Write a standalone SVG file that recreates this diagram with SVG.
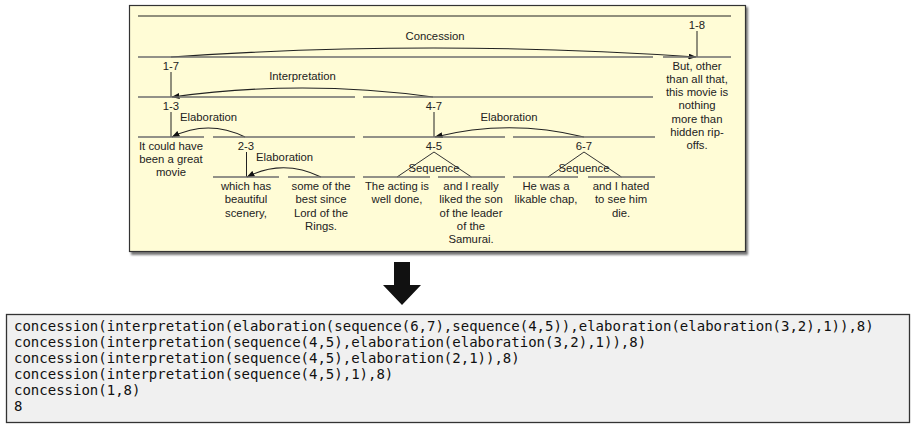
<svg xmlns="http://www.w3.org/2000/svg" width="913" height="427" viewBox="0 0 913 427">
<defs>
<marker id="ah" markerWidth="8" markerHeight="6" refX="7.5" refY="3" orient="auto" markerUnits="userSpaceOnUse">
<path d="M0,0 L8,3 L0,6 Z" fill="#111"/>
</marker>
<filter id="sh" x="-5%" y="-5%" width="110%" height="110%">
<feGaussianBlur stdDeviation="1.2"/>
</filter>
<style>
.t{font-family:"Liberation Sans",Arial,sans-serif;font-size:11.3px;fill:#222;text-anchor:middle}
.tl{font-family:"Liberation Sans",Arial,sans-serif;font-size:11.3px;fill:#222}
.span{stroke:#6e6e6e;stroke-width:1.7;fill:none}
.v{stroke:#222;stroke-width:1;fill:none}
.arc{stroke:#222;stroke-width:1.1;fill:none;marker-end:url(#ah)}
.seq{stroke:#333;stroke-width:1;fill:none}
.mono{font-family:"DejaVu Sans Mono",monospace;font-size:14px;fill:#111}
</style>
</defs>
<rect width="913" height="427" fill="#ffffff"/>
<g id="panel">
<rect x="131" y="7" width="617" height="248" fill="#777" filter="url(#sh)"/>
<rect x="129.5" y="5.5" width="616" height="246" fill="#fffcd6" stroke="#333" stroke-width="1.2"/>
<line x1="138" y1="16" x2="731" y2="16" stroke="#222" stroke-width="1"/>
</g>
<g id="connectors">
<path class="arc" d="M171,57 Q434,39 696,57"/>
<path class="arc" d="M433,97 Q302,79 172,97"/>
<path class="arc" d="M245,137 Q208,119 172,137"/>
<path class="arc" d="M584,137 Q509,118.5 435,137"/>
<path class="arc" d="M321,177 Q283,158.5 247,177"/>
</g>
<g id="n1-8">
<text class="t" x="697" y="29">1-8</text>
<line class="v" x1="697" y1="31" x2="697" y2="57"/>
</g>
<g id="rel-concession"><text class="t" x="435" y="40">Concession</text></g>
<g id="n1-7">
<line class="span" x1="138" y1="57" x2="653" y2="57"/>
<text class="t" x="171" y="69.5">1-7</text>
<line class="v" x1="171" y1="72" x2="171" y2="97"/>
</g>
<g id="rel-interpretation"><text class="t" x="302.5" y="80">Interpretation</text></g>
<g id="n8">
<line class="span" x1="663" y1="57" x2="731" y2="57"/>
<text class="t" x="697" y="69.5">But, other</text>
<text class="t" x="697" y="82.8">than all that,</text>
<text class="t" x="697" y="96.1">this movie is</text>
<text class="t" x="697" y="109.4">nothing</text>
<text class="t" x="697" y="122.7">more than</text>
<text class="t" x="697" y="136">hidden rip-</text>
<text class="t" x="697" y="149.3">offs.</text>
</g>
<g id="n1-3">
<line class="span" x1="138" y1="97" x2="355" y2="97"/>
<text class="t" x="171" y="110">1-3</text>
<line class="v" x1="171" y1="112" x2="171" y2="137"/>
<text class="tl" x="180" y="120.5">Elaboration</text>
</g>
<g id="n4-7">
<line class="span" x1="363" y1="97" x2="653" y2="97"/>
<text class="t" x="434" y="110">4-7</text>
<line class="v" x1="434" y1="112" x2="434" y2="137"/>
<text class="t" x="509" y="120.5">Elaboration</text>
</g>
<g id="n1">
<line class="span" x1="138" y1="137" x2="204" y2="137"/>
<text class="t" x="171" y="149.5">It could have</text>
<text class="t" x="171" y="162.8">been a great</text>
<text class="t" x="171" y="176.1">movie</text>
</g>
<g id="n2-3">
<line class="span" x1="213" y1="137" x2="355" y2="137"/>
<text class="t" x="246" y="149.5">2-3</text>
<line class="v" x1="246.5" y1="152" x2="246.5" y2="177"/>
<text class="tl" x="256" y="160.5">Elaboration</text>
</g>
<g id="n2">
<line class="span" x1="213" y1="177" x2="279" y2="177"/>
<text class="t" x="246" y="190">which has</text>
<text class="t" x="246" y="203.3">beautiful</text>
<text class="t" x="246" y="216.6">scenery,</text>
</g>
<g id="n3">
<line class="span" x1="288" y1="177" x2="355" y2="177"/>
<text class="t" x="321" y="190">some of the</text>
<text class="t" x="321" y="203.3">best since</text>
<text class="t" x="321" y="216.6">Lord of the</text>
<text class="t" x="321" y="229.9">Rings.</text>
</g>
<g id="n4-5">
<line class="span" x1="363" y1="137" x2="505" y2="137"/>
<text class="t" x="434" y="149.5">4-5</text>
<path class="seq" d="M397,177 L434,152 L471.5,177"/>
<text class="t" x="434" y="172">Sequence</text>
</g>
<g id="n4">
<line class="span" x1="363" y1="177" x2="430" y2="177"/>
<text class="t" x="397" y="190">The acting is</text>
<text class="t" x="397" y="203.3">well done,</text>
</g>
<g id="n5">
<line class="span" x1="438" y1="177" x2="505" y2="177"/>
<text class="t" x="471" y="190">and I really</text>
<text class="t" x="471" y="203.3">liked the son</text>
<text class="t" x="471" y="216.6">of the leader</text>
<text class="t" x="471" y="229.9">of the</text>
<text class="t" x="471" y="243.2">Samurai.</text>
</g>
<g id="n6-7">
<line class="span" x1="513" y1="137" x2="655" y2="137"/>
<text class="t" x="584" y="149.5">6-7</text>
<path class="seq" d="M548,177 L584,152 L621.5,177"/>
<text class="t" x="584" y="172">Sequence</text>
</g>
<g id="n6">
<line class="span" x1="513" y1="177" x2="578" y2="177"/>
<text class="t" x="546" y="190">He was a</text>
<text class="t" x="546" y="203.3">likable chap,</text>
</g>
<g id="n7">
<line class="span" x1="588" y1="177" x2="655" y2="177"/>
<text class="t" x="621" y="190">and I hated</text>
<text class="t" x="621" y="203.3">to see him</text>
<text class="t" x="621" y="216.6">die.</text>
</g>
<g id="arrow">
<polygon points="394,262 410,262 410,285 421,285 402,305 383,285 394,285" fill="#111"/>
</g>
<g id="output">
<rect x="6.5" y="314.5" width="903" height="108" fill="#f0f0f0" stroke="#333" stroke-width="1.3"/>
<text class="mono" x="14" y="331">concession(interpretation(elaboration(sequence(6,7),sequence(4,5)),elaboration(elaboration(3,2),1)),8)</text>
<text class="mono" x="14" y="347">concession(interpretation(sequence(4,5),elaboration(elaboration(3,2),1)),8)</text>
<text class="mono" x="14" y="363">concession(interpretation(sequence(4,5),elaboration(2,1)),8)</text>
<text class="mono" x="14" y="379">concession(interpretation(sequence(4,5),1),8)</text>
<text class="mono" x="14" y="395">concession(1,8)</text>
<text class="mono" x="14" y="411">8</text>
</g>
</svg>
